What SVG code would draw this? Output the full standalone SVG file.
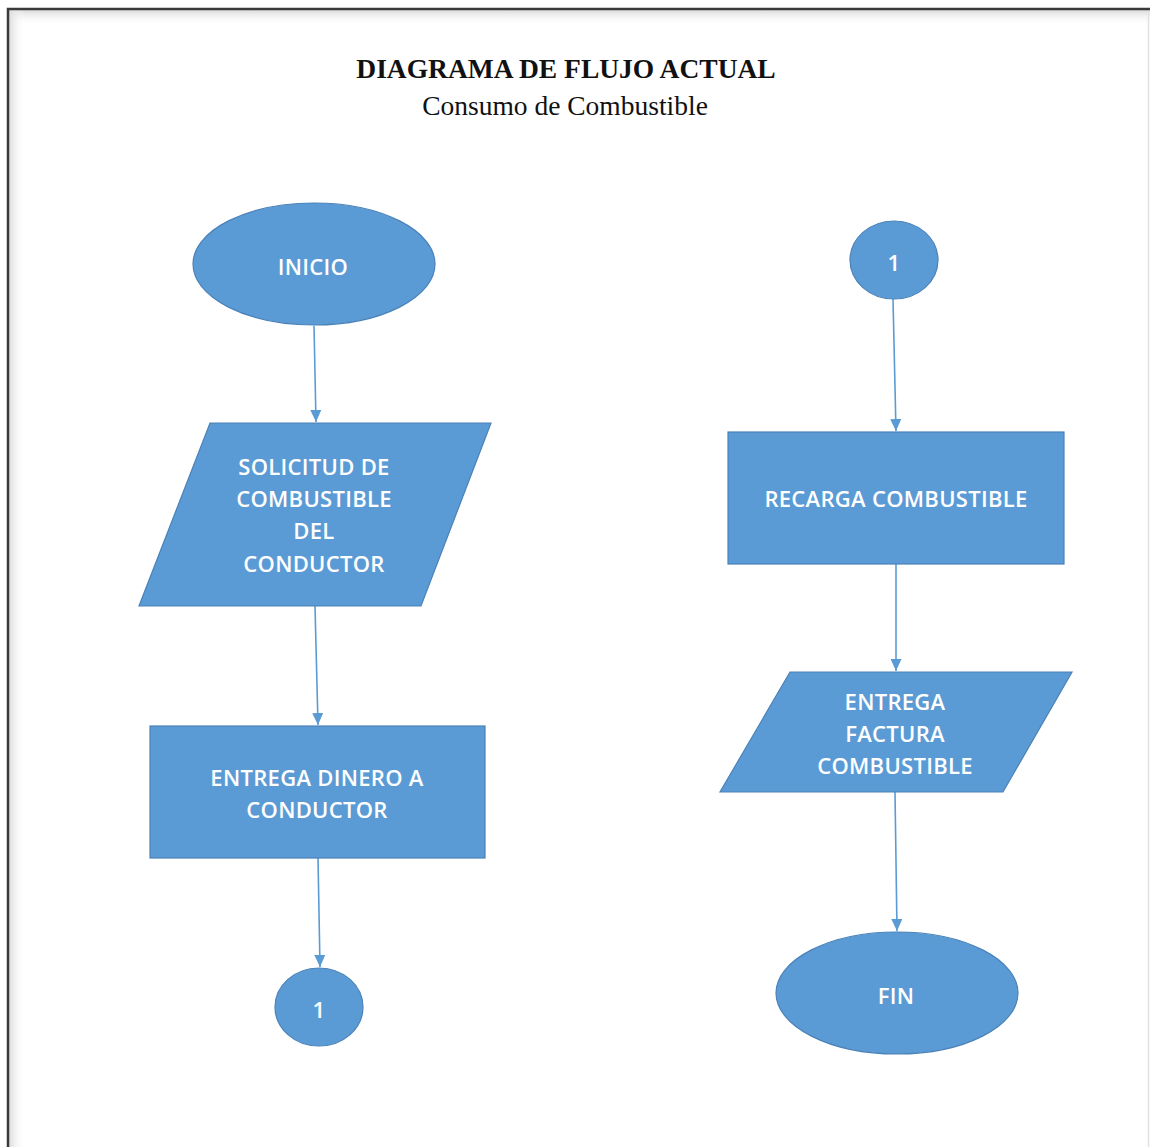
<svg xmlns="http://www.w3.org/2000/svg" width="1150" height="1147" viewBox="0 0 1150 1147">
  <defs>
    <linearGradient id="shadeTop" x1="0" y1="0" x2="0" y2="1">
      <stop offset="0" stop-color="#dcdcdc"/>
      <stop offset="1" stop-color="#ffffff" stop-opacity="0"/>
    </linearGradient>
    <linearGradient id="shadeLeft" x1="0" y1="0" x2="1" y2="0">
      <stop offset="0" stop-color="#dcdcdc"/>
      <stop offset="1" stop-color="#ffffff" stop-opacity="0"/>
    </linearGradient>
    <marker id="arrow" viewBox="0 0 12 11" refX="12" refY="5.5" markerWidth="12" markerHeight="11" markerUnits="userSpaceOnUse" orient="auto">
      <path d="M0,0 L12,5.5 L0,11 Z" fill="#5B9BD5"/>
    </marker>
    <style>
      .shape { fill: #5B9BD5; stroke: #4A82B8; stroke-width: 1.2; }
      .label { fill: #ffffff; font-family: "Open Sans", "Liberation Sans", sans-serif; font-size: 22px; font-weight: 600; letter-spacing: 0.3px; text-anchor: middle; dominant-baseline: central; }
      .conn { stroke: #5B9BD5; stroke-width: 1.6; fill: none; marker-end: url(#arrow); }
      .title { font-family: "Liberation Serif", serif; fill: #111111; text-anchor: middle; }
    </style>
  </defs>

  <!-- page background and frame -->
  <rect x="0" y="0" width="1150" height="1147" fill="#ffffff"/>
  <rect x="9" y="10" width="1141" height="16" fill="url(#shadeTop)"/>
  <rect x="9" y="10" width="16" height="1137" fill="url(#shadeLeft)"/>
  <line x1="1148.5" y1="10" x2="1148.5" y2="1147" stroke="#e2e2e2" stroke-width="1.5"/>
  <path d="M8,1147 L8,9 L1150,9" fill="none" stroke="#3a3a3a" stroke-width="2.5"/>

  <!-- heading -->
  <g id="heading">
    <text class="title" x="566" y="78" font-size="27.5" font-weight="bold">DIAGRAMA DE FLUJO ACTUAL</text>
    <text class="title" x="565" y="115" font-size="27.5">Consumo de Combustible</text>
  </g>

  <!-- connectors -->
  <g id="connectors">
    <line class="conn" x1="314" y1="326" x2="316" y2="422"/>
    <line class="conn" x1="315" y1="606" x2="318" y2="725"/>
    <line class="conn" x1="318" y1="858" x2="320" y2="967"/>
    <line class="conn" x1="893" y1="299" x2="896" y2="431"/>
    <line class="conn" x1="896" y1="564" x2="896" y2="671"/>
    <line class="conn" x1="895" y1="792" x2="897" y2="931"/>
  </g>

  <!-- left column -->
  <g id="inicio">
    <ellipse class="shape" cx="314" cy="264" rx="121" ry="61"/>
    <text class="label" x="313" y="266">INICIO</text>
  </g>
  <g id="solicitud">
    <polygon class="shape" points="210,423 491,423 421,606 139,606"/>
    <text class="label" x="314" y="466">SOLICITUD DE</text>
    <text class="label" x="314" y="498">COMBUSTIBLE</text>
    <text class="label" x="314" y="530">DEL</text>
    <text class="label" x="314" y="563">CONDUCTOR</text>
  </g>
  <g id="entrega-dinero">
    <rect class="shape" x="150" y="726" width="335" height="132"/>
    <text class="label" x="317" y="777">ENTREGA DINERO A</text>
    <text class="label" x="317" y="809">CONDUCTOR</text>
  </g>
  <g id="conector-salida">
    <ellipse class="shape" cx="319" cy="1007" rx="44" ry="39"/>
    <text class="label" x="319" y="1009">1</text>
  </g>

  <!-- right column -->
  <g id="conector-entrada">
    <ellipse class="shape" cx="894" cy="260" rx="44" ry="39"/>
    <text class="label" x="894" y="262">1</text>
  </g>
  <g id="recarga">
    <rect class="shape" x="728" y="432" width="336" height="132"/>
    <text class="label" x="896" y="498">RECARGA COMBUSTIBLE</text>
  </g>
  <g id="entrega-factura">
    <polygon class="shape" points="790,672 1072,672 1003,792 720,792"/>
    <text class="label" x="895" y="701">ENTREGA</text>
    <text class="label" x="895" y="733">FACTURA</text>
    <text class="label" x="895" y="765">COMBUSTIBLE</text>
  </g>
  <g id="fin">
    <ellipse class="shape" cx="897" cy="993" rx="121" ry="61"/>
    <text class="label" x="896" y="995">FIN</text>
  </g>
</svg>
